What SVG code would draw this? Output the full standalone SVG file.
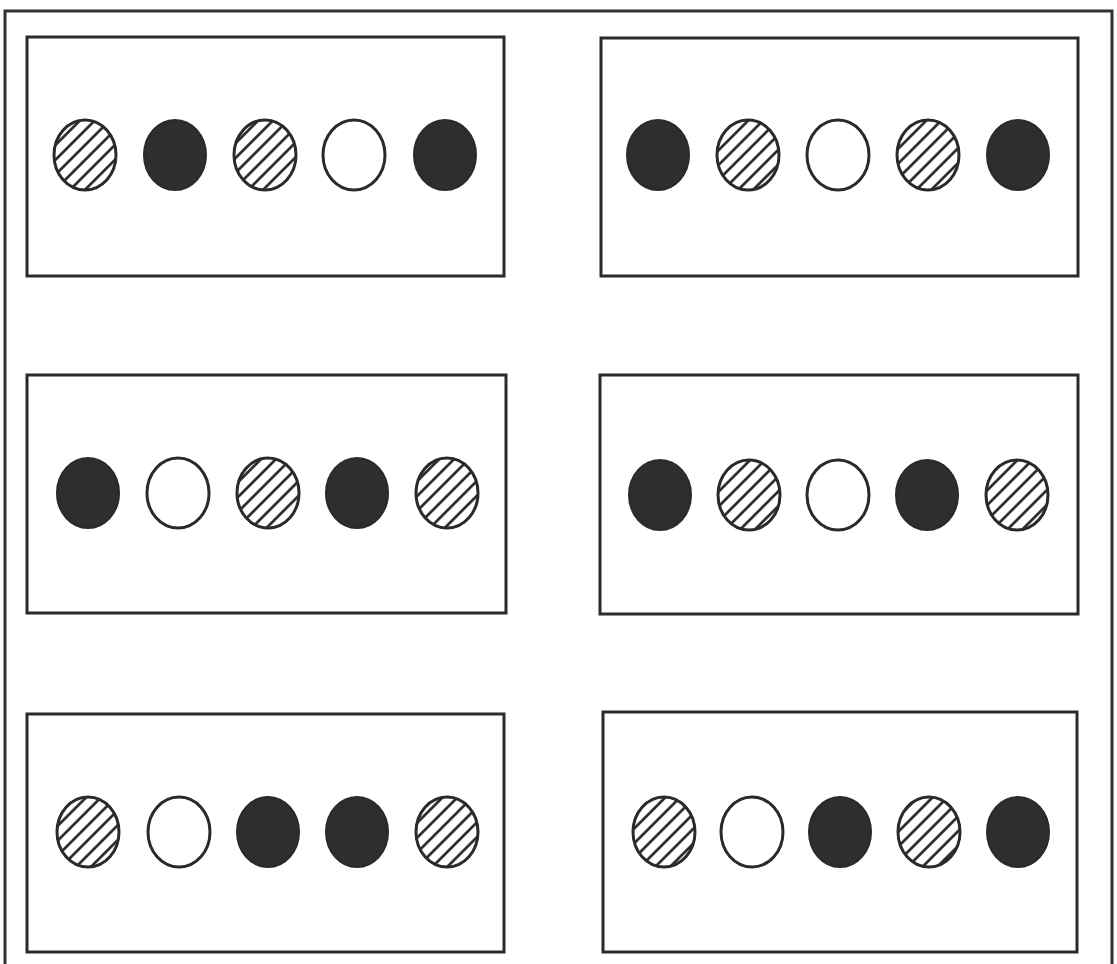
<svg xmlns="http://www.w3.org/2000/svg" width="1117" height="964" viewBox="0 0 1117 964">
<defs>
<pattern id="hatch" patternUnits="userSpaceOnUse" width="10.5" height="10.5" patternTransform="rotate(-45)">
<rect width="10.5" height="10.5" fill="#fff"/>
<line x1="0" y1="5.25" x2="10.5" y2="5.25" stroke="#222" stroke-width="2.6"/>
</pattern>
</defs>
<style>
.frame{fill:none;stroke:#333;stroke-width:3}
.box{fill:#fff;stroke:#2a2a2a;stroke-width:3}
.h{fill:url(#hatch);stroke:#2a2a2a;stroke-width:3}
.d{fill:#2e2e2e;stroke:#2a2a2a;stroke-width:2}
.o{fill:#fff;stroke:#2a2a2a;stroke-width:3}
</style>
<rect width="1117" height="964" fill="#fff"/>
<path class="frame" d="M5,970 V11 H1112 V970"/>
<g id="panel1">
<rect class="box" x="27" y="37" width="477" height="239"/>
<ellipse class="h" cx="85" cy="155" rx="31" ry="35"/>
<ellipse class="d" cx="175" cy="155" rx="31" ry="35"/>
<ellipse class="h" cx="265" cy="155" rx="31" ry="35"/>
<ellipse class="o" cx="354" cy="155" rx="31" ry="35"/>
<ellipse class="d" cx="445" cy="155" rx="31" ry="35"/>
</g>
<g id="panel2">
<rect class="box" x="601" y="38" width="477" height="238"/>
<ellipse class="d" cx="658" cy="155" rx="31" ry="35"/>
<ellipse class="h" cx="748" cy="155" rx="31" ry="35"/>
<ellipse class="o" cx="838" cy="155" rx="31" ry="35"/>
<ellipse class="h" cx="928" cy="155" rx="31" ry="35"/>
<ellipse class="d" cx="1018" cy="155" rx="31" ry="35"/>
</g>
<g id="panel3">
<rect class="box" x="27" y="375" width="479" height="238"/>
<ellipse class="d" cx="88" cy="493" rx="31" ry="35"/>
<ellipse class="o" cx="178" cy="493" rx="31" ry="35"/>
<ellipse class="h" cx="268" cy="493" rx="31" ry="35"/>
<ellipse class="d" cx="357" cy="493" rx="31" ry="35"/>
<ellipse class="h" cx="447" cy="493" rx="31" ry="35"/>
</g>
<g id="panel4">
<rect class="box" x="600" y="375" width="478" height="239"/>
<ellipse class="d" cx="660" cy="495" rx="31" ry="35"/>
<ellipse class="h" cx="749" cy="495" rx="31" ry="35"/>
<ellipse class="o" cx="838" cy="495" rx="31" ry="35"/>
<ellipse class="d" cx="927" cy="495" rx="31" ry="35"/>
<ellipse class="h" cx="1017" cy="495" rx="31" ry="35"/>
</g>
<g id="panel5">
<rect class="box" x="27" y="714" width="477" height="238"/>
<ellipse class="h" cx="88" cy="832" rx="31" ry="35"/>
<ellipse class="o" cx="179" cy="832" rx="31" ry="35"/>
<ellipse class="d" cx="268" cy="832" rx="31" ry="35"/>
<ellipse class="d" cx="357" cy="832" rx="31" ry="35"/>
<ellipse class="h" cx="447" cy="832" rx="31" ry="35"/>
</g>
<g id="panel6">
<rect class="box" x="603" y="712" width="474" height="240"/>
<ellipse class="h" cx="664" cy="832" rx="31" ry="35"/>
<ellipse class="o" cx="752" cy="832" rx="31" ry="35"/>
<ellipse class="d" cx="840" cy="832" rx="31" ry="35"/>
<ellipse class="h" cx="929" cy="832" rx="31" ry="35"/>
<ellipse class="d" cx="1018" cy="832" rx="31" ry="35"/>
</g>
<g id="connectors"/>
</svg>
